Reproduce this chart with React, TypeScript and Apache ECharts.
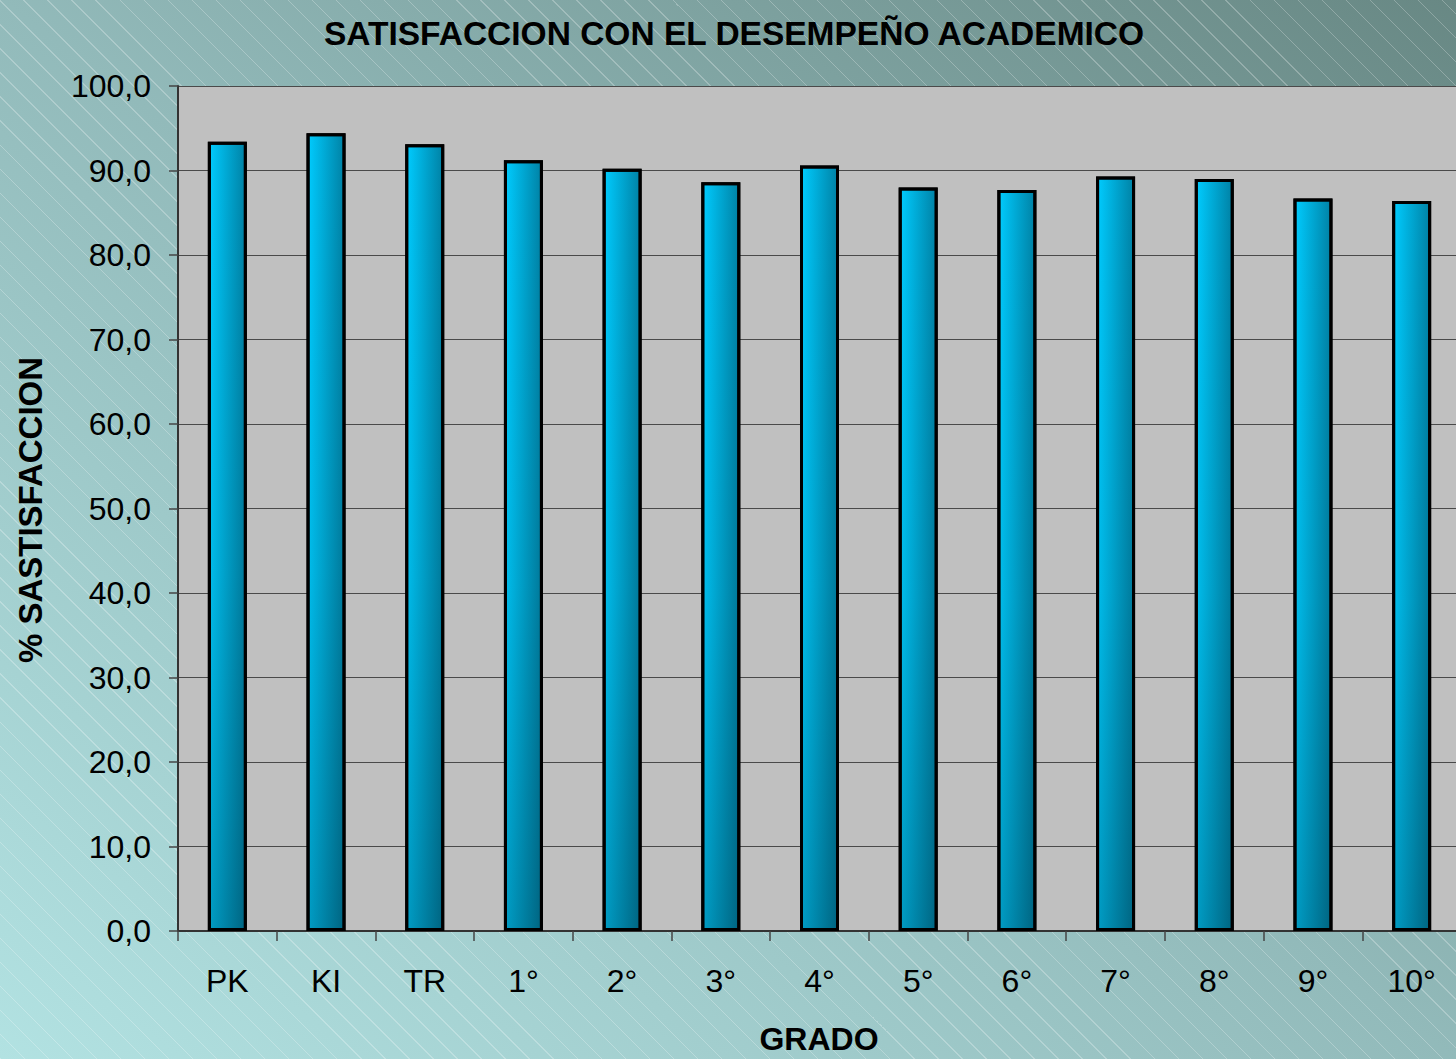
import React, { useEffect, useRef } from "react";
import * as echarts from "echarts";

const categories = ["PK", "KI", "TR", "1°", "2°", "3°", "4°", "5°", "6°", "7°", "8°", "9°", "10°"];
const values = [93.4, 94.4, 93.1, 91.2, 90.2, 88.6, 90.6, 88.0, 87.7, 89.3, 89.0, 86.7, 86.4];
const titleText = "SATISFACCION CON EL DESEMPEÑO ACADEMICO";
const yAxisTitle = "% SASTISFACCION";
const xAxisTitle = "GRADO";
const yMin = 0;
const yMax = 100;
const yStep = 10;

const FONT = "'Liberation Sans', Arial, sans-serif";

export default function App() {
  const ref = useRef<HTMLDivElement>(null);
  useEffect(() => {
    if (!ref.current) return;
    const chart = echarts.init(ref.current, undefined, { renderer: "svg" });
    chart.setOption({
      animation: false,
      backgroundColor: "transparent",
      title: {
        text: titleText,
        left: 729,
        top: 11,
        textAlign: "center",
        textStyle: { fontFamily: FONT, fontWeight: "bold", fontSize: 33.5, color: "#000" },
      },
      grid: {
        left: 178,
        right: 0,
        top: 86,
        bottom: 128,
        show: true,
        backgroundColor: "#C0C0C0",
        borderWidth: 0,
      },
      xAxis: {
        type: "category",
        data: categories,
        boundaryGap: true,
        axisLine: { show: true, lineStyle: { color: "#333", width: 2 } },
        axisTick: { show: true, length: 10, lineStyle: { color: "#444", width: 1.5 } },
        axisLabel: { fontFamily: FONT, fontSize: 32, color: "#000", margin: 34 },
        splitLine: { show: false },
      },
      yAxis: {
        type: "value",
        min: yMin,
        max: yMax,
        interval: yStep,
        axisLine: { show: true, lineStyle: { color: "#333", width: 2 } },
        axisTick: { show: true, length: 9, lineStyle: { color: "#444", width: 1.5 } },
        axisLabel: {
          fontFamily: FONT,
          fontSize: 32,
          color: "#000",
          margin: 27,
          formatter: (v: number) => v.toFixed(1).replace(".", ","),
        },
        splitLine: { show: true, lineStyle: { color: "#4a4a4a", width: 1.2 } },
      },
      graphic: [
        {
          type: "text",
          x: 30,
          y: 510,
          rotation: Math.PI / 2,
          style: {
            text: yAxisTitle,
            fontFamily: FONT,
            fontWeight: "bold",
            fontSize: 33,
            fill: "#000",
            align: "center",
            verticalAlign: "middle",
          },
        },
        {
          type: "text",
          x: 819,
          y: 1039,
          style: {
            text: xAxisTitle,
            fontFamily: FONT,
            fontWeight: "bold",
            fontSize: 32,
            fill: "#000",
            align: "center",
            verticalAlign: "middle",
          },
        },
      ],
      series: [
        {
          type: "bar",
          data: values,
          barWidth: 39,
          itemStyle: {
            color: {
              type: "linear",
              x: 0,
              y: 0,
              x2: 0,
              y2: 1,
              colorStops: [
                { offset: 0, color: "#00CCFF" },
                { offset: 0.55, color: "#00BDEC" },
                { offset: 1, color: "#009CC4" },
              ],
            },
            borderColor: "#000",
            borderWidth: 3,
          },
        },
        {
          type: "bar",
          data: values,
          barWidth: 39,
          barGap: "-100%",
          itemStyle: {
            color: {
              type: "linear",
              x: 0,
              y: 0,
              x2: 1,
              y2: 0,
              colorStops: [
                { offset: 0, color: "rgba(0,10,20,0)" },
                { offset: 1, color: "rgba(0,10,20,0.38)" },
              ],
            },
            borderColor: "#000",
            borderWidth: 3,
          },
        },
      ],
    });
    return () => chart.dispose();
  }, []);

  return (
    <div
      style={{
        position: "fixed",
        left: 0,
        top: 0,
        width: 1456,
        height: 1059,
        overflow: "hidden",
        background:
          "repeating-linear-gradient(45deg, rgba(255,255,255,0.25) 0px, rgba(255,255,255,0.25) 1px, rgba(255,255,255,0) 1px, rgba(255,255,255,0) 17px), linear-gradient(to top right, #B2E2E2 0%, #92BABA 50%, #688884 100%)",
      }}
    >
      <div ref={ref} style={{ width: 1461, height: 1059 }} />
    </div>
  );
}
